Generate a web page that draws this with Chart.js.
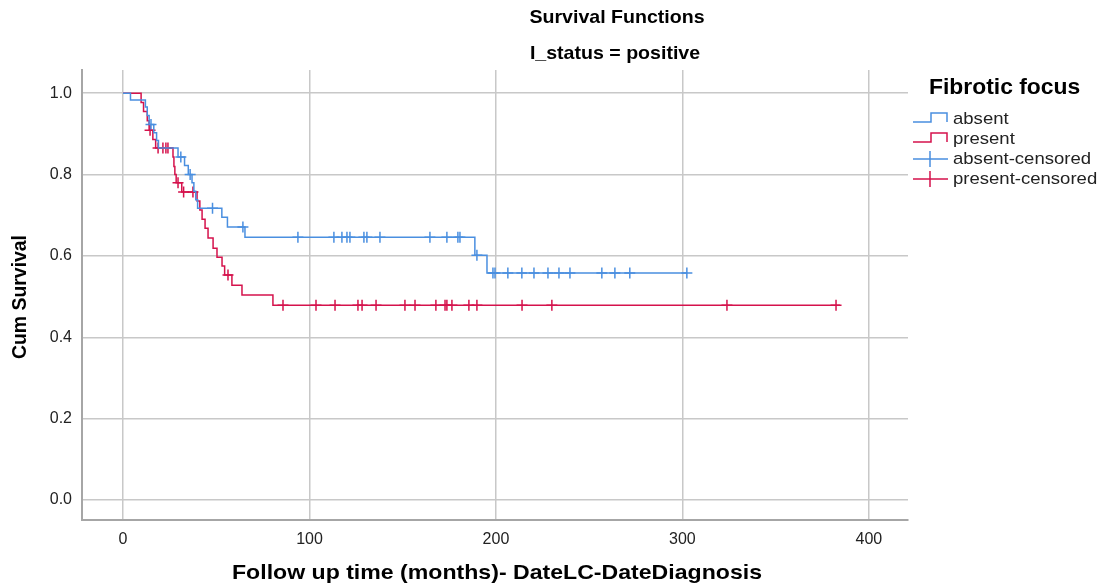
<!DOCTYPE html>
<html>
<head>
<meta charset="utf-8">
<title>Survival Functions</title>
<script src="https://cdn.jsdelivr.net/npm/chart.js@4/dist/chart.umd.min.js"></script>
<style>
  html, body { margin: 0; padding: 0; background: #fff; }
  #wrap { width: 1101px; height: 588px; position: relative; }
</style>
</head>
<body>
<div id="wrap"><canvas id="km"></canvas></div>
<script>
// Kaplan-Meier steps: time (months) and cum survival after the event
const absentTimes = [0, 4, 12, 13, 14, 16.5, 18, 19, 29.5, 33, 35, 37, 38, 39, 40, 53, 56, 65.4, 188.7, 195.2, 302.5];
const absentSurv  = [1.0, 0.983, 0.966, 0.945, 0.923, 0.903, 0.884, 0.865, 0.843, 0.822, 0.80, 0.78, 0.759, 0.738, 0.717, 0.695, 0.671, 0.646, 0.602, 0.558, 0.558];
const absentCensored = [15, 31, 36, 48, 64.3, 93.8, 113.1, 117.4, 120.1, 121.7, 129.2, 130.8, 137.8, 164.6, 173.7,
  179.6, 180.7, 189.8, 198.4, 199.5, 206.4, 213.9, 220.4, 227.9, 233.8, 239.7, 256.8, 263.8, 271.8, 302.4];

const presentTimes = [0, 9.7, 11, 13, 14, 16, 17.5, 26.8, 27.3, 27.8, 28.5, 31.5, 39.7, 41.2, 42.4, 44, 45.6, 48.3,
  50.4, 53.1, 54.5, 58.4, 63.8, 80.4, 384.5];
const presentSurv  = [1.0, 0.977, 0.955, 0.932, 0.909, 0.886, 0.865, 0.843, 0.82, 0.80, 0.78, 0.757, 0.735, 0.713,
  0.69, 0.668, 0.644, 0.619, 0.597, 0.575, 0.553, 0.528, 0.504, 0.479, 0.479];
const presentCensored = [14.5, 18.8, 21.4, 23, 24.1, 29.5, 32.5, 37.5, 56.3, 85.8, 103.5, 113.7, 126, 128.2, 135.7,
  151.2, 156.6, 167.8, 172.7, 173.7, 176.4, 185.5, 189.8, 214, 230, 323.9, 382.4];

const xTickValues = [0, 100, 200, 300, 400];
const yTickValues = [0, 0.2, 0.4, 0.6, 0.8, 1.0];
const legendLabels = ['absent', 'present', 'absent-censored', 'present-censored'];

const BLUE = '#4a8fe0';
const RED = '#d5124c';
const FONT = "'Liberation Sans', Arial, sans-serif";

// value of the step curve at time t (last step at or before t)
function survAt(times, surv, t) {
  let s = surv[0];
  for (let i = 0; i < times.length; i++) {
    if (times[i] <= t) s = surv[i];
  }
  return s;
}

const toPoints = (times, surv) => times.map((t, i) => ({ x: t, y: surv[i] }));
const censorPoints = (cens, times, surv) => cens.map(t => ({ x: t, y: survAt(times, surv, t) }));

// text drawn slightly stretched sideways, like the exported picture
function wideText(ctx, str, x, y, sx, rot) {
  ctx.save();
  ctx.translate(x, y);
  if (rot) ctx.rotate(rot);
  ctx.scale(sx, 1);
  ctx.fillText(str, 0, 0);
  ctx.restore();
}

const textPlugin = {
  id: 'textPlugin',
  afterDraw(chart) {
    const ctx = chart.ctx;
    ctx.save();
    ctx.fillStyle = '#000';
    ctx.textBaseline = 'middle';

    ctx.font = `bold 19px ${FONT}`;
    ctx.textAlign = 'center';
    wideText(ctx, 'Survival Functions', 617, 18, 1.03);
    wideText(ctx, 'I_status = positive', 615, 54, 1.03);

    ctx.font = `bold 21px ${FONT}`;
    wideText(ctx, 'Follow up time (months)- DateLC-DateDiagnosis', 497, 573, 1.1);

    ctx.font = `bold 20px ${FONT}`;
    wideText(ctx, 'Cum Survival', 20, 297, 0.97, -Math.PI / 2);

    // legend
    ctx.textAlign = 'left';
    ctx.font = `bold 22px ${FONT}`;
    wideText(ctx, 'Fibrotic focus', 929, 88, 1.04);

    ctx.font = `17px ${FONT}`;
    ctx.fillStyle = '#222';
    const colors = [BLUE, RED, BLUE, RED];
    legendLabels.forEach((lbl, i) => {
      const y = 119 + i * 20;
      wideText(ctx, lbl, 953, y, 1.09);
      ctx.strokeStyle = colors[i];
      ctx.lineWidth = 1.5;
      ctx.beginPath();
      if (i < 2) {
        ctx.moveTo(913, y + 3);
        ctx.lineTo(931, y + 3);
        ctx.lineTo(931, y - 6);
        ctx.lineTo(947, y - 6);
        ctx.lineTo(947, y + 3);
      } else {
        ctx.moveTo(913, y);
        ctx.lineTo(948, y);
        ctx.moveTo(930, y - 8);
        ctx.lineTo(930, y + 8);
      }
      ctx.stroke();
    });
    ctx.restore();
  }
};

const stepStyle = color => ({
  showLine: true,
  stepped: true,
  borderColor: color,
  borderWidth: 1.5,
  pointRadius: 0,
  pointHoverRadius: 0,
  fill: false,
});

const censorStyle = color => ({
  showLine: false,
  pointStyle: 'cross',
  pointRadius: 5.5,
  pointBorderColor: color,
  pointBorderWidth: 1.5,
  pointBackgroundColor: color,
});

new Chart(document.getElementById('km'), {
  type: 'scatter',
  data: {
    datasets: [
      { label: 'absent', data: toPoints(absentTimes, absentSurv), ...stepStyle(BLUE) },
      { label: 'present', data: toPoints(presentTimes, presentSurv), ...stepStyle(RED) },
      { label: 'absent-censored', data: censorPoints(absentCensored, absentTimes, absentSurv), ...censorStyle(BLUE) },
      { label: 'present-censored', data: censorPoints(presentCensored, presentTimes, presentSurv), ...censorStyle(RED) },
    ],
  },
  options: {
    responsive: true,
    maintainAspectRatio: false,
    animation: false,
    layout: { padding: { top: 70, right: 193, left: 0, bottom: 0 } },
    plugins: {
      legend: { display: false },
      tooltip: { enabled: false },
      title: { display: false },
    },
    scales: {
      x: {
        type: 'linear',
        min: -22,
        max: 421,
        afterBuildTicks: s => { s.ticks = xTickValues.map(v => ({ value: v })); },
        afterFit: s => { s.height = 68; },
        grid: { color: '#c8c8c8', lineWidth: 1.5, drawTicks: false },
        border: { color: '#a6a6a6', width: 2 },
        ticks: { padding: 10, color: '#222', font: { family: FONT, size: 16 }, callback: v => String(v) },
      },
      y: {
        min: -0.049,
        max: 1.057,
        afterBuildTicks: s => { s.ticks = yTickValues.map(v => ({ value: v })); },
        afterFit: s => { s.width = 82; },
        grid: { color: '#c8c8c8', lineWidth: 1.5, drawTicks: false },
        border: { color: '#a6a6a6', width: 2 },
        ticks: { padding: 10, color: '#222', font: { family: FONT, size: 16 }, callback: v => v.toFixed(1) },
      },
    },
  },
  plugins: [textPlugin],
});
</script>
</body>
</html>
